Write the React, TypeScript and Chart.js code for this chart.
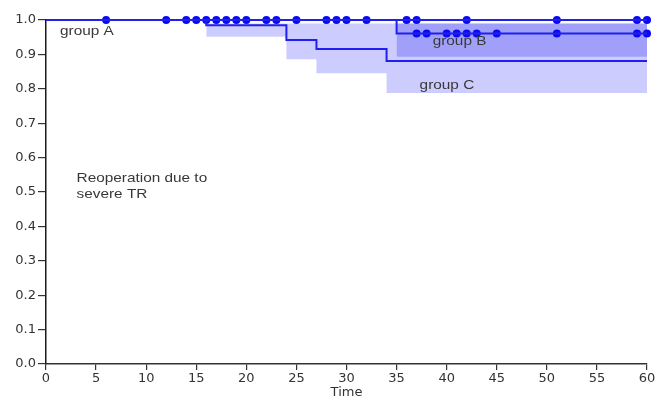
import React, { useEffect, useRef } from "react";
import { Chart, registerables } from "chart.js";

Chart.register(...registerables);

// Kaplan-Meier step data
const groupATimes = [0, 60];
const groupASurv = [1, 1];
const groupBTimes = [0, 35, 60];
const groupBSurv = [1, 0.961, 0.961];
const groupCTimes = [0, 16, 24, 27, 34, 60];
const groupCSurv = [1, 0.985, 0.942, 0.916, 0.881, 0.881];

// confidence bands
const bandCTimes = [16, 24, 27, 34, 60];
const bandCUpper = [0.99, 0.99, 0.99, 0.99, 0.99];
const bandCLower = [0.951, 0.886, 0.845, 0.788, 0.788];
const bandBTimes = [35, 60];
const bandBUpper = [0.99, 0.99];
const bandBLower = [0.893, 0.893];

// censored observations
const censorTopTimes = [6, 12, 14, 15, 16, 17, 18, 19, 20, 22, 23, 25, 28, 29, 30, 32, 36, 37, 42, 51, 59, 60];
const censorTopLevel = 1;
const censorBTimes = [37, 38, 40, 41, 42, 43, 45, 51, 59, 60];
const censorBLevel = 0.961;

// text notes
const noteTexts = ["group A", "group B", "group C", "Reoperation due to", "severe TR"];
const noteX = [1.4, 38.6, 37.3, 3.05, 3.05];
const noteY = [0.966, 0.937, 0.811, 0.538, 0.492];

const LINE = "#2020ee";
const DOT = "#0a0af2";

const pts = (xs: number[], ys: number[]) => xs.map((x, i) => ({ x, y: ys[i] }));
const flat = (xs: number[], y: number) => xs.map((x) => ({ x, y }));

const notesPlugin = {
  id: "notes",
  afterDatasetsDraw(chart: any) {
    const { ctx, scales } = chart;
    ctx.save();
    ctx.fillStyle = "#383838";
    ctx.font = "12.8px 'Liberation Sans', Arial, sans-serif";
    ctx.textBaseline = "middle";
    ctx.textAlign = "left";
    noteTexts.forEach((t, i) => {
      const px = scales.x.getPixelForValue(noteX[i]);
      const py = scales.y.getPixelForValue(noteY[i]);
      ctx.save();
      ctx.translate(px, py);
      ctx.scale(1.2, 1);
      ctx.fillText(t, 0, 0);
      ctx.restore();
    });
    ctx.restore();
  },
};

export default function App() {
  const ref = useRef<HTMLCanvasElement | null>(null);
  useEffect(() => {
    if (!ref.current) return;
    const tickFont = { family: "'DejaVu Sans', sans-serif", size: 13 };
    const chart = new Chart(ref.current, {
      type: "line",
      data: {
        datasets: [
          { data: pts(groupATimes, groupASurv), borderColor: LINE, borderWidth: 2, pointRadius: 0, stepped: "before", clip: false, fill: false } as any,
          { data: pts(groupBTimes, groupBSurv), borderColor: LINE, borderWidth: 2, pointRadius: 0, stepped: "before", clip: false, fill: false },
          { data: pts(groupCTimes, groupCSurv), borderColor: LINE, borderWidth: 2, pointRadius: 0, stepped: "before", clip: false, fill: false },
          { data: flat(censorTopTimes, censorTopLevel), showLine: false, pointRadius: 4, pointBackgroundColor: DOT, pointBorderWidth: 0, clip: false },
          { data: flat(censorBTimes, censorBLevel), showLine: false, pointRadius: 4, pointBackgroundColor: DOT, pointBorderWidth: 0, clip: false },
          { data: pts(bandCTimes, bandCUpper), borderWidth: 0, borderColor: "rgba(0,0,0,0)", pointRadius: 0, stepped: "before", fill: false },
          { data: pts(bandCTimes, bandCLower), borderWidth: 0, borderColor: "rgba(0,0,0,0)", pointRadius: 0, stepped: "before", fill: "-1", backgroundColor: "rgba(0,0,255,0.2)" },
          { data: pts(bandBTimes, bandBUpper), borderWidth: 0, borderColor: "rgba(0,0,0,0)", pointRadius: 0, stepped: "before", fill: false },
          { data: pts(bandBTimes, bandBLower), borderWidth: 0, borderColor: "rgba(0,0,0,0)", pointRadius: 0, stepped: "before", fill: "-1", backgroundColor: "rgba(0,0,225,0.22)" },
        ],
      },
      options: {
        animation: false,
        responsive: false,
        devicePixelRatio: 1,
        layout: { padding: { top: 20, right: 11, left: 0, bottom: 0 } },
        plugins: { legend: { display: false }, tooltip: { enabled: false } },
        scales: {
          x: {
            type: "linear",
            min: 0,
            max: 60,
            ticks: { stepSize: 5, font: tickFont, color: "#333", padding: 1, maxRotation: 0 },
            grid: { drawOnChartArea: false, drawTicks: true, tickLength: 6, color: "#333", lineWidth: 1.2 },
            border: { display: true, color: "#333", width: 1.5 },
            title: { display: true, text: "Time", font: tickFont, color: "#333", padding: { top: 0, bottom: 0 } },
            afterFit: (s: any) => { s.height = 36; },
          },
          y: {
            type: "linear",
            min: 0,
            max: 1,
            ticks: { stepSize: 0.1, font: tickFont, color: "#333", padding: 2, callback: (v: any) => Number(v).toFixed(1) },
            grid: { drawOnChartArea: false, drawTicks: true, tickLength: 8, color: "#333", lineWidth: 1.2 },
            border: { display: true, color: "#1a1a1a", width: 1.5 },
            afterFit: (s: any) => { s.width = 46; },
          },
        },
      },
      plugins: [notesPlugin],
    } as any);
    return () => chart.destroy();
  }, []);
  return (
    <div style={{ position: "fixed", left: 0, top: 0, width: 658, height: 400, background: "#fff" }}>
      <canvas ref={ref} width={658} height={400} style={{ display: "block" }} />
    </div>
  );
}
